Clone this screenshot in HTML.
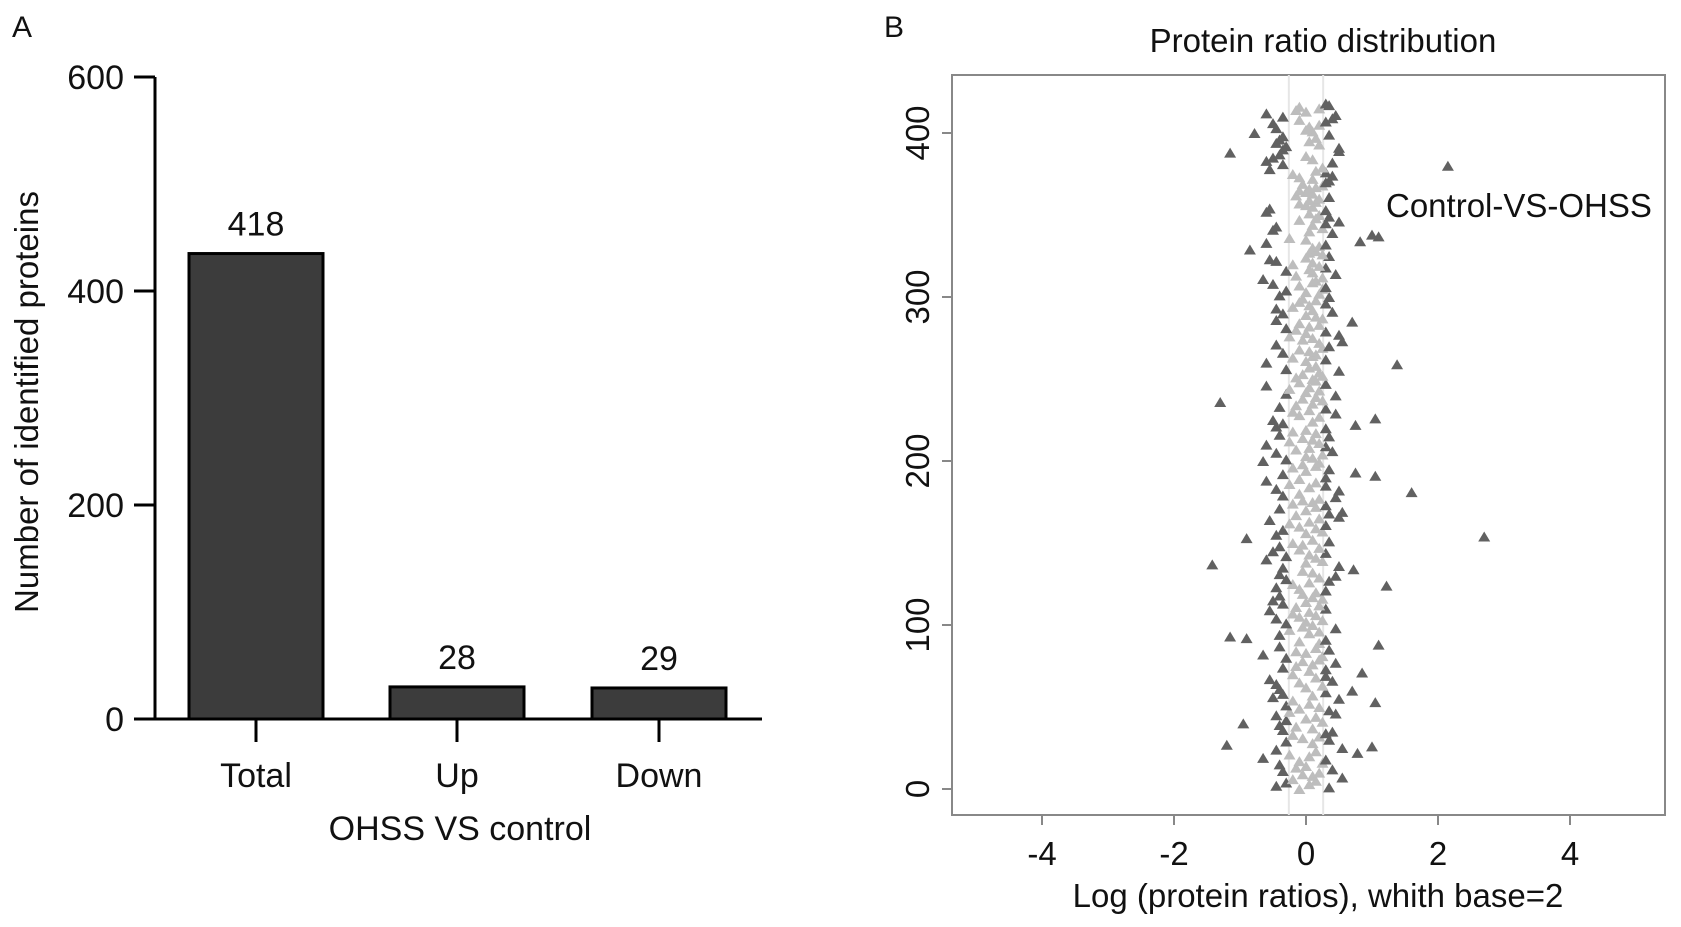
<!DOCTYPE html>
<html><head><meta charset="utf-8"><style>
html,body{margin:0;padding:0;background:#fff;}
svg{display:block;font-family:"Liberation Sans",sans-serif;}
</style></head><body>
<svg id="fig" width="1681" height="927" viewBox="0 0 1681 927">
<text x="12" y="37" font-size="30" fill="#111">A</text>
<text x="884" y="37" font-size="30" fill="#111">B</text>
<g id="barChart"></g>
<g id="scatterChart"></g>
</svg>
<script>
// ---- Panel A data ----
const barCategories = ["Total", "Up", "Down"];
const barValues = [435, 30, 29];
const barLabels = ["418", "28", "29"];
const barTicks = [0, 200, 400, 600];

// ---- Panel B data ----
const scatterXTicks = [-4, -2, 0, 2, 4];
const scatterYTicks = [0, 100, 200, 300, 400];
const ratioThresholds = [-0.26, 0.26];
const logRatios = [
-0.1,0.35,-0.45,0.05,-0.3,0.15,-0.2,0.55,0.1,-0.05,
0.2,-0.35,0.4,-0.15,0.0,-0.4,0.25,-0.1,0.3,-0.65,
0.05,-0.25,0.78,0.15,-0.45,0.55,1.0,-1.2,0.1,-0.3,
0.35,-0.05,0.2,-0.2,0.3,0.4,-0.35,0.1,-0.15,-0.4,
-0.95,0.25,-0.3,0.0,0.15,-0.45,0.45,-0.25,0.35,-0.1,
0.2,-0.3,0.05,1.05,-0.2,0.5,-0.5,0.1,-0.35,0.3,
0.7,-0.4,0.0,0.25,-0.45,-0.1,0.4,-0.55,0.15,0.3,
-0.2,0.85,0.05,0.3,-0.35,-0.15,0.1,0.45,-0.05,0.2,
-0.3,0.25,-0.65,0.0,-0.15,0.35,0.15,-0.4,1.1,0.2,
-0.1,0.3,-0.9,-1.15,-0.4,0.05,0.2,-0.25,0.45,-0.05,
0.1,-0.3,0.0,0.25,-0.45,-0.1,0.15,-0.2,0.05,-0.55,
0.3,-0.15,0.2,-0.35,0.0,-0.5,0.25,0.1,-0.4,-0.05,
0.15,0.3,-0.1,-0.45,1.22,-0.2,0.05,0.35,-0.3,0.2,
0.45,-0.4,0.1,-0.05,0.72,-0.35,0.5,-1.42,0.0,0.25,
-0.6,0.15,-0.3,0.05,0.3,-0.5,-0.1,0.2,-0.4,-0.05,
-0.2,0.35,0.1,-0.9,2.7,-0.45,0.0,0.25,-0.35,0.15,
-0.1,0.3,-0.25,0.05,-0.55,0.2,0.5,-0.15,0.35,0.55,
0.0,-0.4,0.15,0.3,-0.2,0.1,-0.05,0.2,0.45,-0.35,
-0.1,1.6,0.5,-0.45,0.05,0.3,-0.25,0.15,-0.6,-0.1,
0.3,1.05,-0.35,0.75,0.0,0.35,-0.2,0.15,-0.05,0.2,
-0.65,-0.3,0.1,0.0,0.25,-0.45,0.4,-0.15,0.05,0.3,
-0.6,0.2,-0.25,0.1,-0.05,0.35,-0.4,0.15,-0.2,0.0,
0.3,-0.45,0.75,-0.35,0.1,-0.5,1.05,0.2,-0.1,0.45,
-0.2,0.05,0.3,-0.4,-0.15,0.1,-1.3,0.25,-0.05,0.15,
0.45,-0.3,0.0,0.2,-0.25,0.05,-0.6,0.3,-0.1,0.15,
0.1,-0.15,0.25,-0.05,0.2,0.5,-0.3,0.05,0.15,1.38,
-0.6,0.0,0.3,-0.2,0.1,0.15,-0.35,0.05,-0.1,0.25,
0.35,-0.45,0.2,0.55,-0.05,0.1,-0.25,0.5,0.0,0.3,
-0.15,-0.3,0.05,0.2,-0.1,0.7,-0.45,0.25,0.15,0.0,
-0.35,0.4,0.1,-0.45,-0.2,0.05,0.3,-0.1,0.15,-0.05,
0.35,-0.4,0.2,0.0,-0.3,0.25,0.3,-0.1,-0.5,0.1,
0.15,-0.65,0.25,-0.15,0.45,0.1,-0.3,0.05,0.3,0.2,
-0.2,0.1,-0.45,-0.55,0.0,0.35,0.25,0.05,0.15,-0.85,
0.1,0.2,0.3,-0.6,0.82,0.0,-0.25,1.1,1.0,0.4,
0.05,-0.5,0.25,-0.45,0.1,0.3,0.5,-0.1,0.15,0.35,
0.2,0.05,-0.6,0.3,-0.55,0.1,0.0,-0.1,0.15,0.05,
0.2,0.35,-0.15,0.1,0.0,-0.1,0.05,0.15,0.25,-0.05,
0.3,0.35,0.1,-0.1,0.4,-0.2,0.3,0.15,-0.55,0.25,
2.15,-0.35,0.4,-0.6,0.1,-0.5,0.0,-0.4,-1.15,0.5,
-0.35,0.5,-0.3,0.2,-0.45,0.05,-0.4,0.15,-0.35,0.35,
-0.78,0.1,0.0,-0.45,0.05,0.2,-0.5,0.3,-0.1,0.4,
-0.35,0.45,-0.6,0.0,-0.15,0.2,-0.1,0.35,0.3
];

const NS = "http://www.w3.org/2000/svg";
function mk(parent, tag, attrs, text) {
  const e = document.createElementNS(NS, tag);
  for (const k in attrs) e.setAttribute(k, attrs[k]);
  if (text !== undefined) e.textContent = text;
  parent.appendChild(e);
  return e;
}

// ---- Panel A ----
(function(){
  const g = document.getElementById('barChart');
  const y0 = 719, yTop = 77, axisX = 155;
  const yScale = v => y0 - v / 600 * (y0 - yTop);
  const centers = [256, 457, 659], bw = 134;
  const xAxis = mk(g, 'line', {x1:134, y1:y0, x2:762, y2:y0, stroke:'#000', 'stroke-width':3});
  
  
  const yAxis = mk(g, 'line', {x1:axisX, y1:yScale(600), x2:axisX, y2:y0, stroke:'#000', 'stroke-width':3});
  
  
  barTicks.forEach(t => {
    const y = yScale(t);
    const tk = mk(g, 'line', {x1:134, y1:y, x2:axisX, y2:y, stroke:'#000', 'stroke-width':3});
    
    
    const tl = mk(g, 'text', {x:124, y:y+12, 'font-size':34, 'text-anchor':'end', fill:'#111'}, String(t));
    
    
  });
  barCategories.forEach((c, i) => {
    const cx = centers[i], top = yScale(barValues[i]);
    const r = mk(g, 'rect', {x:cx-bw/2, y:top, width:bw, height:y0-top, fill:'#3c3c3c', stroke:'#000', 'stroke-width':3});
    
    
    const vl = mk(g, 'text', {x:cx, y:top-18, 'font-size':34, 'text-anchor':'middle', fill:'#111'}, barLabels[i]);
    
    
    const tk = mk(g, 'line', {x1:cx, y1:y0, x2:cx, y2:742, stroke:'#000', 'stroke-width':3});
    
    
    const cl = mk(g, 'text', {x:cx, y:787, 'font-size':34, 'text-anchor':'middle', fill:'#111'}, c);
    
    
  });
  const xt = mk(g, 'text', {x:460, y:840, 'font-size':34, 'text-anchor':'middle', fill:'#111', 'xml:space':'preserve'}, 'OHSS VS  control');
  
  
  const yt = mk(g, 'text', {x:0, y:0, 'font-size':33, 'text-anchor':'middle', fill:'#111', transform:'translate(38,402) rotate(-90)'}, 'Number of identified proteins');
  
  
})();

// ---- Panel B ----
(function(){
  const g = document.getElementById('scatterChart');
  const L = 952, R = 1665, T = 75, B = 815;
  const xs = v => 1306 + v * 66;
  const ys = v => 789 - v * 1.64;
  const box = mk(g, 'rect', {x:L, y:T, width:R-L, height:B-T, fill:'none', stroke:'#888', 'stroke-width':2});
  
  
  ratioThresholds.forEach(t => {
    const l = mk(g, 'line', {x1:xs(t), y1:T, x2:xs(t), y2:B, stroke:'#e6e6e6', 'stroke-width':2});
    
    
  });
  logRatios.forEach((v, i) => {
    const x = xs(v), y = ys(i);
    const dark = v < ratioThresholds[0] || v > ratioThresholds[1];
    const p = mk(g, 'path', {d:`M${x-6},${y+5}L${x+6},${y+5}L${x},${y-5}Z`, fill: dark ? '#616161' : '#bdbdbd'});
    
    
  });
  scatterXTicks.forEach(t => {
    const x = xs(t);
    const tk = mk(g, 'line', {x1:x, y1:B, x2:x, y2:B+10, stroke:'#888', 'stroke-width':2});
    
    
    const tl = mk(g, 'text', {x:x, y:865, 'font-size':33, 'text-anchor':'middle', fill:'#111'}, String(t));
    
    
  });
  scatterYTicks.forEach(t => {
    const y = ys(t);
    const tk = mk(g, 'line', {x1:L-10, y1:y, x2:L, y2:y, stroke:'#888', 'stroke-width':2});
    
    
    const tl = mk(g, 'text', {x:0, y:0, 'font-size':33, 'text-anchor':'middle', fill:'#111', transform:`translate(929,${y}) rotate(-90)`}, String(t));
    
    
  });
  const title = mk(g, 'text', {x:1323, y:52, 'font-size':33, 'text-anchor':'middle', fill:'#111'}, 'Protein ratio distribution');
  
  
  const lg = mk(g, 'text', {x:1386, y:217, 'font-size':33, fill:'#111'}, 'Control-VS-OHSS');
  
  
  const xt = mk(g, 'text', {x:1318, y:907, 'font-size':33, 'text-anchor':'middle', fill:'#111'}, 'Log (protein ratios), whith base=2');
  
  
})();
</script>
</body></html>
